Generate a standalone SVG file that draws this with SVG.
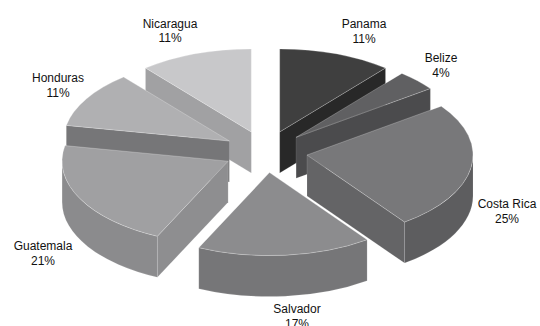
<svg xmlns="http://www.w3.org/2000/svg" width="540" height="326" viewBox="0 0 540 326">
<style>
.top{stroke:#ffffff;stroke-opacity:0.35;stroke-width:0.7;stroke-linejoin:round}
.side{stroke:#ffffff;stroke-opacity:0.2;stroke-width:0.6;stroke-linejoin:round}
.lbl{font-family:"Liberation Sans",Arial,sans-serif;font-size:12px;fill:#111;text-anchor:middle}
</style>
<rect width="540" height="326" fill="#ffffff"/>
<g id="connectors"></g>
<g id="slice-panama">
<path class="side" fill="#282828" d="M279.7 131.9 L385.5 68 L385.5 109 L279.7 172.9 Z"/>
<path class="top" fill="#3f3f3f" d="M279.7 131.9 L279.7 48.9 A166 83 0 0 1 385.5 68 Z"/>
</g>
<g id="slice-nicaragua">
<path class="side" fill="#a1a1a3" d="M251.3 131.9 L145.5 68 L145.5 109 L251.3 172.9 Z"/>
<path class="top" fill="#c8c8ca" d="M251.3 131.9 L145.5 68 A166 83 0 0 1 251.3 48.9 Z"/>
</g>
<g id="slice-belize">
<path class="side" fill="#4b4b4d" d="M296.1 137.3 L430.4 88.5 L430.4 129.5 L296.1 178.3 Z"/>
<path class="top" fill="#606062" d="M296.1 137.3 L401.9 73.4 A166 83 0 0 1 430.4 88.5 Z"/>
</g>
<g id="slice-honduras">
<path class="side" fill="#767678" d="M229.4 141 L66.3 125.4 L66.3 166.4 L229.4 182 Z"/>
<path class="top" fill="#b0b0b2" d="M229.4 141 L66.3 125.4 A166 83 0 0 1 123.6 77.1 Z"/>
</g>
<g id="slice-costarica">
<path class="side" fill="#646466" d="M307 155 L404.6 222.1 L404.6 263.1 L307 196 Z"/>
<path class="side" fill="#5d5d5f" d="M473 155 A166 83 0 0 1 404.6 222.1 L404.6 263.1 A166 83 0 0 0 473 196 Z"/>
<path class="top" fill="#78787a" d="M307 155 L441.3 106.2 A166 83 0 0 1 404.6 222.1 Z"/>
</g>
<g id="slice-guatemala">
<path class="side" fill="#8e8e90" d="M228.1 161.2 L157.4 236.3 L157.4 277.3 L228.1 202.2 Z"/>
<path class="side" fill="#8b8b8d" d="M157.4 236.3 A166 83 0 0 1 62.1 161.2 L62.1 202.2 A166 83 0 0 0 157.4 277.3 Z"/>
<path class="top" fill="#a0a0a2" d="M228.1 161.2 L157.4 236.3 A166 83 0 0 1 65 145.6 Z"/>
</g>
<g id="slice-salvador">
<path class="side" fill="#767678" d="M367.1 239.7 A166 83 0 0 1 198.8 247.7 L198.8 288.7 A166 83 0 0 0 367.1 280.7 Z"/>
<path class="top" fill="#8c8c8e" d="M269.5 172.6 L367.1 239.7 A166 83 0 0 1 198.8 247.7 Z"/>
</g>
<g id="labels">
<text class="lbl" x="364" y="28">Panama<tspan x="364" dy="14.5">11%</tspan></text>
<text class="lbl" x="441" y="62">Belize<tspan x="441" dy="14.5">4%</tspan></text>
<text class="lbl" x="507" y="208">Costa Rica<tspan x="507" dy="14.5">25%</tspan></text>
<text class="lbl" x="297" y="313">Salvador<tspan x="297" dy="14.5">17%</tspan></text>
<text class="lbl" x="43" y="250">Guatemala<tspan x="43" dy="14.5">21%</tspan></text>
<text class="lbl" x="58" y="82">Honduras<tspan x="58" dy="14.5">11%</tspan></text>
<text class="lbl" x="170" y="27.5">Nicaragua<tspan x="170" dy="14.5">11%</tspan></text>
</g>
</svg>
